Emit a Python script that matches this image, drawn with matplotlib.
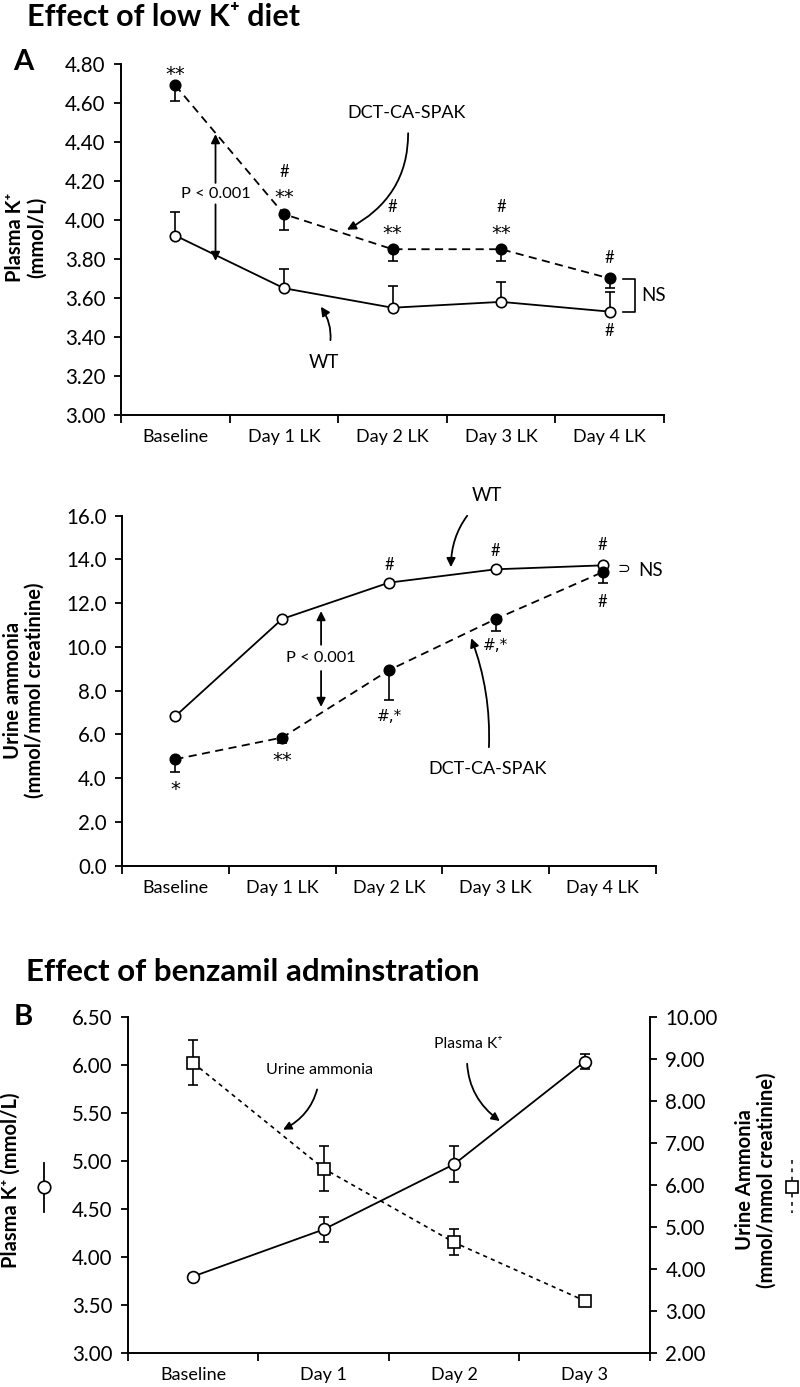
import matplotlib
matplotlib.use('Agg')
import matplotlib.pyplot as plt
from matplotlib.lines import Line2D
import numpy as np

plt.rcParams['font.family'] = ['Lato', 'DejaVu Sans']

# ---- panel A data (low K+ diet) ----
days_a = ['Baseline', 'Day 1 LK', 'Day 2 LK', 'Day 3 LK', 'Day 4 LK']
wt_k = [3.92, 3.65, 3.55, 3.58, 3.53]
wt_k_err = [0.12, 0.10, 0.11, 0.10, 0.10]
dct_k = [4.69, 4.03, 3.85, 3.85, 3.70]
dct_k_err = [0.08, 0.08, 0.06, 0.06, 0.05]

wt_nh4 = [6.84, 11.28, 12.94, 13.55, 13.73]
dct_nh4 = [4.87, 5.86, 8.94, 11.28, 13.42]
dct_nh4_err = [0.58, 0.24, 1.37, 0.55, 0.50]

# ---- panel B data (benzamil) ----
days_b = ['Baseline', 'Day 1', 'Day 2', 'Day 3']
plasma_k = [3.80, 4.29, 4.97, 6.04]
plasma_k_err = [0.03, 0.13, 0.19, 0.08]
urine_nh4 = [8.92, 6.40, 4.64, 3.25]
urine_nh4_err = [0.54, 0.53, 0.31, 0.05]

fig = plt.figure(figsize=(8, 13.87), dpi=100)
ax1 = fig.add_axes([0.1513, 0.7008, 0.6787, 0.2531])
ax2 = fig.add_axes([0.1525, 0.3758, 0.6675, 0.2524])
ax3 = fig.add_axes([0.1596, 0.0243, 0.6529, 0.2422])

YT = 14.8  # y tick label size


def style(ax, labels):
    n = len(labels)
    for s in ['top', 'right']:
        ax.spines[s].set_visible(False)
    for s in ['left', 'bottom']:
        ax.spines[s].set_linewidth(1.4)
    ax.set_xlim(-0.5, n - 0.5)
    ax.set_xticks(np.arange(-0.5, n, 1))
    ax.set_xticklabels([])
    ax.set_xticks(range(n), minor=True)
    ax.set_xticklabels(labels, minor=True)
    ax.tick_params(axis='x', which='major', direction='out', length=6, width=1.3)
    ax.tick_params(axis='x', which='minor', length=0, pad=10, labelsize=13)
    ax.tick_params(axis='y', direction='out', length=5, width=1.3, pad=6, labelsize=YT)


x5 = np.arange(5)
mk = dict(marker='o', markersize=7.5, markeredgewidth=1.2, markeredgecolor='k', color='k', zorder=4)
eb = dict(fmt='none', ecolor='k', elinewidth=1.2, capsize=3.8, capthick=1.2, zorder=2)
fs = 12
ast = dict(ha='center', va='center', fontsize=14, family='DejaVu Sans')
hsh = dict(ha='center', va='center', fontsize=fs)

# ---- top A: plasma K ----
ax1.errorbar(x5, wt_k, yerr=[np.zeros(5), wt_k_err], **eb)
ax1.errorbar(x5, dct_k, yerr=[dct_k_err, np.zeros(5)], **eb)
ax1.plot(x5, wt_k, linestyle='-', lw=1.3, markerfacecolor='white', **mk)
ax1.plot(x5, dct_k, linestyle=(0, (4.5, 3)), lw=1.3, markerfacecolor='k', **mk)
ax1.set_ylim(3.0, 4.8)
ax1.set_yticks(np.arange(3.0, 4.81, 0.2))
ax1.set_yticklabels(['%.2f' % v for v in np.arange(3.0, 4.81, 0.2)])
style(ax1, days_a)

ax1.text(0, 4.745, '**', **ast)
for i, (yh, ys) in zip([1, 2, 3], [(4.245, 4.115), (4.065, 3.93), (4.065, 3.93)]):
    ax1.text(i, yh, '#', **hsh)
    ax1.text(i, ys, '**', **ast)
ax1.text(4, 3.805, '#', **hsh)
ax1.text(4, 3.43, '#', **hsh)
ax1.plot([4.12, 4.23, 4.23, 4.12], [3.697, 3.697, 3.53, 3.53], color='k', lw=1.2, clip_on=False)
ax1.text(4.29, 3.613, 'NS', ha='left', va='center', fontsize=13.5)

ax1.text(0.37, 4.133, 'P < 0.001', ha='center', va='center', fontsize=11.8)
ap = dict(arrowstyle='-|>', color='k', lw=1.3, shrinkA=0, shrinkB=0, mutation_scale=13)
ax1.annotate('', xy=(0.37, 4.44), xytext=(0.37, 4.19), arrowprops=ap)
ax1.annotate('', xy=(0.37, 3.79), xytext=(0.37, 4.08), arrowprops=ap)

ax1.annotate('DCT-CA-SPAK', xy=(1.58, 3.95), xytext=(2.13, 4.55), ha='center', va='center',
             fontsize=13, arrowprops=dict(ap, connectionstyle='arc3,rad=-0.35', shrinkA=7))
ax1.annotate('WT', xy=(1.34, 3.555), xytext=(1.365, 3.27), ha='center', va='center',
             fontsize=13.5, arrowprops=dict(ap, connectionstyle='arc3,rad=0.3', shrinkA=8))

# ---- bottom A: urine ammonia ----
ax2.errorbar(x5, dct_nh4, yerr=[dct_nh4_err, np.zeros(5)], **eb)
ax2.plot(x5, wt_nh4, linestyle='-', lw=1.3, markerfacecolor='white', **mk)
ax2.plot(x5, dct_nh4, linestyle=(0, (4.5, 3)), lw=1.3, markerfacecolor='k', **mk)
ax2.set_ylim(0, 16)
ax2.set_yticks(np.arange(0, 16.1, 2))
ax2.set_yticklabels(['%.1f' % v for v in np.arange(0, 16.1, 2)])
style(ax2, days_a)

ax2.text(0, 3.5, '*', **ast)
ax2.text(1, 4.8, '**', **ast)
ax2.text(2, 13.75, '#', **hsh)
ax2.text(2, 6.8, '#,*', ha='center', va='center', fontsize=11, family='DejaVu Sans')
ax2.text(3, 14.4, '#', **hsh)
ax2.text(3, 10.08, '#,*', ha='center', va='center', fontsize=11, family='DejaVu Sans')
ax2.text(4, 14.65, '#', **hsh)
ax2.text(4, 12.05, '#', **hsh)
ax2.text(4.20, 13.55, '\u2283', ha='center', va='center', fontsize=11)
ax2.text(4.33, 13.5, 'NS', ha='left', va='center', fontsize=13.5)

ax2.text(1.364, 9.5, 'P < 0.001', ha='center', va='center', fontsize=11.8)
ax2.annotate('', xy=(1.364, 11.64), xytext=(1.364, 10.1), arrowprops=ap)
ax2.annotate('', xy=(1.364, 7.26), xytext=(1.364, 8.9), arrowprops=ap)

ax2.annotate('WT', xy=(2.58, 13.65), xytext=(2.92, 16.9), ha='center', va='center',
             fontsize=13.5, annotation_clip=False,
             arrowprops=dict(ap, connectionstyle='arc3,rad=0.25', shrinkA=8))
ax2.annotate('DCT-CA-SPAK', xy=(2.77, 10.4), xytext=(2.92, 4.42), ha='center', va='center',
             fontsize=13, arrowprops=dict(ap, connectionstyle='arc3,rad=0.12', shrinkA=8))

# ---- panel B: benzamil ----
x4 = np.arange(4)
ax3b = ax3.twinx()
ax3.errorbar(x4, plasma_k, yerr=plasma_k_err, **eb)
ax3.plot(x4, plasma_k, linestyle='-', lw=1.3, markerfacecolor='white',
         **dict(mk, markersize=8.5))
ax3b.errorbar(x4, urine_nh4, yerr=urine_nh4_err, **eb)
ax3b.plot(x4, urine_nh4, linestyle=(0, (2.5, 2.5)), lw=1.2, marker='s', markersize=8.5,
          markerfacecolor='white', markeredgecolor='k', markeredgewidth=1.2, color='k', zorder=4)
ax3.set_ylim(3.0, 6.5)
ax3.set_yticks(np.arange(3.0, 6.51, 0.5))
ax3.set_yticklabels(['%.2f' % v for v in np.arange(3.0, 6.51, 0.5)])
ax3b.set_ylim(2, 10)
ax3b.set_yticks(np.arange(2, 10.1, 1))
ax3b.set_yticklabels(['%.2f' % v for v in np.arange(2, 10.1, 1)])
style(ax3, days_b)
ax3b.spines['top'].set_visible(False)
ax3b.spines['left'].set_visible(False)
ax3b.spines['bottom'].set_visible(False)
ax3b.spines['right'].set_linewidth(1.4)
ax3b.tick_params(axis='y', direction='out', length=5, width=1.3, pad=6, labelsize=YT)

ap_b = dict(ap, mutation_scale=12)
ax3.annotate('Urine ammonia', xy=(0.69, 5.33), xytext=(0.97, 5.95), ha='center', va='center',
             fontsize=11.5, arrowprops=dict(ap_b, connectionstyle='arc3,rad=-0.3', shrinkA=7))
ax3.annotate('Plasma K\u207a', xy=(2.35, 5.42), xytext=(2.107, 6.22), ha='center', va='center',
             fontsize=11.3, arrowprops=dict(ap_b, connectionstyle='arc3,rad=0.3', shrinkA=7))

# ---- axis titles / headings ----
lab = dict(fontsize=14.5, fontweight='bold', rotation=90, ha='center', va='center',
           multialignment='center')
fig.text(26 / 800, 1 - 237 / 1387, 'Plasma K\u207a\n(mmol/L)', linespacing=1.1, **lab)
fig.text(24 / 800, 1 - 690 / 1387, 'Urine ammonia\n(mmol/mmol creatinine)', linespacing=1.1, **lab)
fig.text(11 / 800, 1 - 1180 / 1387, 'Plasma K\u207a (mmol/L)', **lab)
fig.text(756 / 800, 1 - 1180 / 1387, 'Urine Ammonia\n(mmol/mmol creatinine)', linespacing=1.1, **lab)

fig.text(27 / 800, 1 - 17 / 1387, 'Effect of low K\u207a diet', fontsize=22, fontweight='bold',
         ha='left', va='center')
fig.text(26 / 800, 1 - 972 / 1387, 'Effect of benzamil adminstration', fontsize=22.5,
         fontweight='bold', ha='left', va='center')
fig.text(23 / 800, 1 - 62 / 1387, 'A', fontsize=21, fontweight='bold', ha='center', va='center')
fig.text(23 / 800, 1 - 1017 / 1387, 'B', fontsize=21, fontweight='bold', ha='center', va='center')

# symbol keys beside panel B axis titles
fig.add_artist(Line2D([44 / 800, 44 / 800], [1 - 1162.7 / 1387, 1 - 1211.7 / 1387],
                      transform=fig.transFigure, color='k', lw=1.3))
fig.add_artist(Line2D([44 / 800], [1 - 1187 / 1387], transform=fig.transFigure, marker='o',
                      markersize=9, markerfacecolor='white', markeredgecolor='k',
                      markeredgewidth=1.2, linestyle='none'))
fig.add_artist(Line2D([792 / 800, 792 / 800], [1 - 1160 / 1387, 1 - 1213 / 1387],
                      transform=fig.transFigure, color='k', lw=1.1, linestyle=(0, (2.5, 3))))
fig.add_artist(Line2D([792 / 800], [1 - 1187 / 1387], transform=fig.transFigure, marker='s',
                      markersize=9, markerfacecolor='white', markeredgecolor='k',
                      markeredgewidth=1.2, linestyle='none'))

fig.savefig('out.png', dpi=100)
